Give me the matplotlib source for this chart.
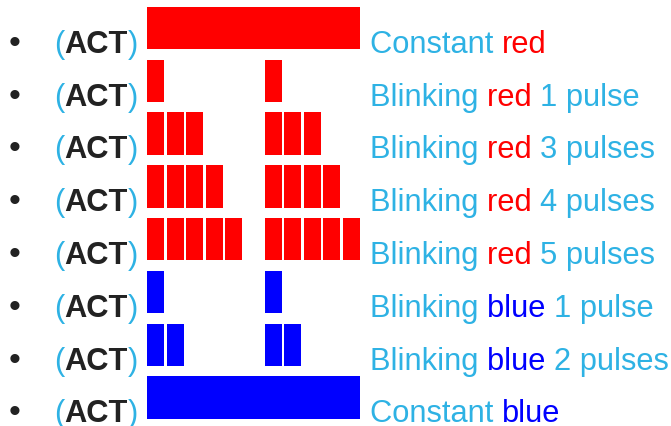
import matplotlib.pyplot as plt
from matplotlib.transforms import blended_transform_factory

plt.rcParams['font.family'] = ['Liberation Sans', 'DejaVu Sans']

# one row per LED state, top to bottom
led_colors = ['red', 'red', 'red', 'red', 'red', 'blue', 'blue', 'blue']
pulses = [0, 1, 3, 4, 5, 1, 2, 0]  # 0 means constant on
modes = ['Constant', 'Blinking', 'Blinking', 'Blinking', 'Blinking',
         'Blinking', 'Blinking', 'Constant']
counts_txt = ['', '1 pulse', '3 pulses', '4 pulses', '5 pulses',
              '1 pulse', '2 pulses', '']
group_starts = [0, 6]   # two blink groups per cycle (time slots)
pulse_len = 0.87
constant_len = 10.87

txt_blue = '#2eb2e4'
fs = 22.2

fig = plt.figure(figsize=(6.71, 4.27), dpi=100)
ax = fig.add_axes([147 / 671, 2 / 427, 11 * 19.6 / 671, 8 * 52.8 / 427])
ax.set_xlim(0, 11)
ax.set_ylim(7.5, -0.5)
ax.axis('off')

for i, (c, n) in enumerate(zip(led_colors, pulses)):
    if n == 0:
        ax.barh(i, constant_len, left=0, height=0.8, color=c)
    else:
        for g in group_starts:
            for k in range(n):
                ax.barh(i, pulse_len, left=g + k, height=0.8, color=c)

tr = blended_transform_factory(fig.transFigure, ax.transData)


def chain(prev, s, color, weight='normal'):
    return ax.annotate(s, xy=(1, 0), xycoords=prev, va='bottom', ha='left',
                       fontsize=fs, color=color, fontweight=weight,
                       annotation_clip=False)


for i in range(len(led_colors)):
    yb = i + 0.45
    ax.text(9 / 671, yb, '\u2022', transform=tr, fontsize=fs + 2, color='#222222',
            va='baseline', ha='left', clip_on=False)
    t = ax.text(54 / 671, yb, '(', transform=tr, fontsize=fs, color=txt_blue,
                va='baseline', ha='left', clip_on=False)
    t = chain(t, 'ACT', '#222222', 'bold')
    t = chain(t, ')', txt_blue)

    t = ax.text(370 / 671, yb, modes[i] + ' ', transform=tr, fontsize=fs,
                color=txt_blue, va='baseline', ha='left', clip_on=False)
    if counts_txt[i]:
        t = chain(t, led_colors[i] + ' ', led_colors[i])
        t = chain(t, counts_txt[i], txt_blue)
    else:
        t = chain(t, led_colors[i], led_colors[i])

fig.savefig('out.png', dpi=100)
